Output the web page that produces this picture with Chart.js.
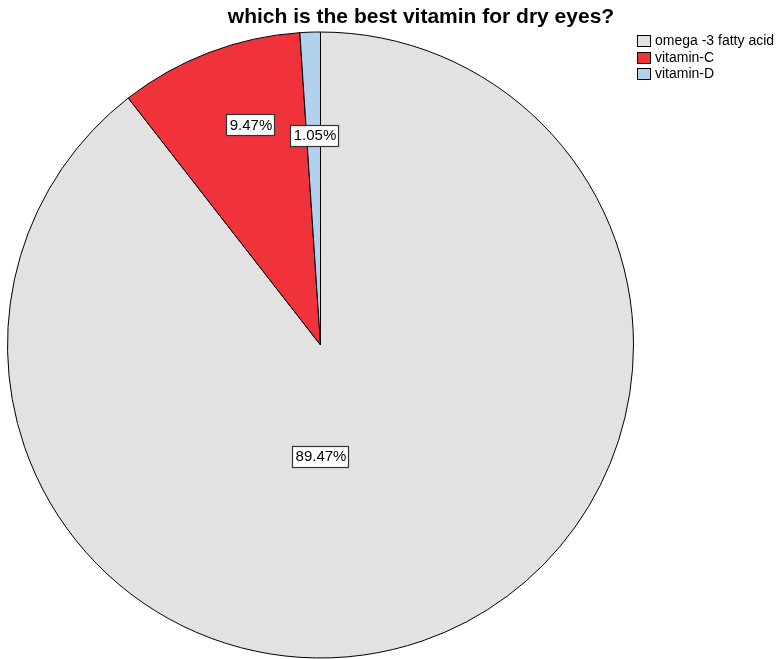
<!DOCTYPE html>
<html>
<head>
<meta charset="utf-8">
<script src="https://cdn.jsdelivr.net/npm/chart.js@4"></script>
<style>
	html, body { margin: 0; padding: 0; background: #fff; }
	#wrap { width: 781px; height: 659px; }
</style>
</head>
<body>
<div id="wrap"><canvas id="vitaminPie" width="781" height="659"></canvas></div>
<script>
var titleText = "which is the best vitamin for dry eyes?";
var categories = ["omega -3 fatty acid", "vitamin-C", "vitamin-D"];
var counts = [85, 9, 1];
var percentLabels = ["89.47%", "9.47%", "1.05%"];
var sliceColors = ["#e2e2e2", "#f0323a", "#b1d1ef"];

// where each percent box sits: [angle shift in degrees from slice middle, fraction of radius]
var labelPlace = [[19, 0.355], [3, 0.74], [0, 0.67]];

var spssLook = {
	id: 'spssLook',
	afterDraw: function(chart){
		var ctx = chart.ctx;
		ctx.save();

		// title
		ctx.fillStyle = "#000";
		ctx.font = "bold 21px 'Liberation Sans', Arial, sans-serif";
		ctx.textAlign = "center";
		ctx.textBaseline = "alphabetic";
		ctx.fillText(titleText, 421, 23);

		// percent boxes
		var arcs = chart.getDatasetMeta(0).data;
		ctx.font = "15px 'Liberation Sans', Arial, sans-serif";
		ctx.textBaseline = "middle";
		for (var i = 0; i < arcs.length; i++) {
			var a = arcs[i];
			var mid = (a.startAngle + a.endAngle) / 2 + labelPlace[i][0] * Math.PI / 180;
			var r = a.outerRadius * labelPlace[i][1];
			var x = a.x + Math.cos(mid) * r;
			var y = a.y + Math.sin(mid) * r;
			var w = Math.round(ctx.measureText(percentLabels[i]).width + 5);
			var h = 21;
			var bx = Math.round(x - w / 2) + 0.5, by = Math.round(y - h / 2) + 0.5;
			ctx.fillStyle = "#fff";
			ctx.fillRect(bx, by, w, h);
			ctx.strokeStyle = "#333";
			ctx.lineWidth = 1.2;
			ctx.strokeRect(bx, by, w, h);
			ctx.fillStyle = "#000";
			ctx.fillText(percentLabels[i], Math.round(x) + 1, Math.round(y) + 1);
		}

		// legend
		ctx.textAlign = "left";
		ctx.font = "14px 'Liberation Sans', Arial, sans-serif";
		for (var j = 0; j < categories.length; j++) {
			var ly = Math.round(35 + j * 16.5);
			ctx.fillStyle = sliceColors[j];
			ctx.fillRect(637.5, ly + 0.5, 13, 11);
			ctx.strokeStyle = "#000";
			ctx.lineWidth = 1;
			ctx.strokeRect(637.5, ly + 0.5, 13, 11);
			ctx.fillStyle = "#000";
			ctx.fillText(categories[j], 655, ly + 6);
		}
		ctx.restore();
	}
};

var pieChart = new Chart(
	document.getElementById('vitaminPie'),
	{
		type: 'pie',
		data: {
			labels: categories,
			datasets: [
				{
					data: counts,
					backgroundColor: sliceColors,
					borderColor: "#000",
					borderWidth: 1
				}
			]
		},
		options: {
			responsive: false,
			animation: false,
			layout: { padding: { left: 7, right: 147, top: 31, bottom: 0 } },
			plugins: {
				legend: { display: false },
				tooltip: { enabled: false }
			}
		},
		plugins: [spssLook]
	}
);
</script>
</body>
</html>
